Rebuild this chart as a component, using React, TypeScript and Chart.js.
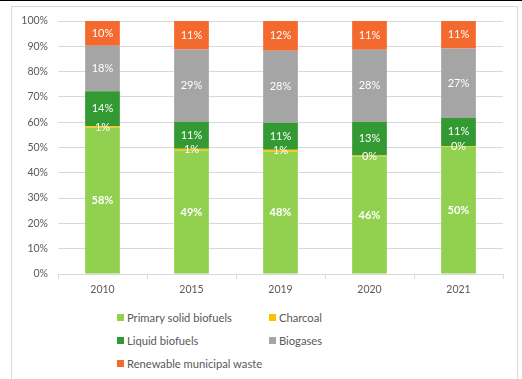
import React, { useEffect, useRef } from "react";
import { Chart, registerables } from "chart.js";

Chart.register(...registerables);

const categories = ["2010", "2015", "2019", "2020", "2021"];
const primarySolid = [57.8, 48.8, 48.3, 46.4, 50.3];
const charcoal = [0.6, 0.7, 0.8, 0.4, 0.3];
const liquid = [13.8, 10.6, 10.7, 13.4, 11.1];
const biogases = [18.0, 28.6, 28.4, 28.4, 27.4];
const municipal = [9.8, 11.3, 11.8, 11.4, 10.9];
const yTicks = [0, 10, 20, 30, 40, 50, 60, 70, 80, 90, 100];

const seriesNames = [
  "Primary solid biofuels",
  "Charcoal",
  "Liquid biofuels",
  "Biogases",
  "Renewable municipal waste",
];
const seriesColors = ["#92D050", "#FFC000", "#339933", "#A5A5A5", "#F4692E"];
const FONT = "Lato, 'Open Sans', sans-serif";

const labelPlugin = {
  id: "barLabels",
  afterDatasetsDraw(chart: any) {
    const ctx = chart.ctx;
    ctx.save();
    ctx.textAlign = "center";
    ctx.textBaseline = "middle";
    ctx.fillStyle = "#FFFFFF";
    chart.data.datasets.forEach((ds: any, i: number) => {
      const meta = chart.getDatasetMeta(i);
      ctx.font = (i === 0 ? "bold " : "") + "11px " + FONT;
      meta.data.forEach((bar: any, j: number) => {
        const v = ds.data[j];
        const p = bar.getProps(["x", "y", "base"], true);
        const cy = (p.y + p.base) / 2;
        ctx.fillText(Math.round(v) + "%", p.x, cy);
      });
    });
    ctx.restore();
  },
};

export default function App() {
  const ref = useRef<HTMLCanvasElement>(null);
  useEffect(() => {
    if (!ref.current) return;
    const values = [primarySolid, charcoal, liquid, biogases, municipal];
    const chart = new Chart(ref.current, {
      type: "bar",
      data: {
        labels: categories,
        datasets: values.map((d, i) => ({
          label: seriesNames[i],
          data: d,
          backgroundColor: seriesColors[i],
          borderWidth: 0,
          barPercentage: 0.39,
          categoryPercentage: 1,
        })),
      },
      options: {
        animation: false,
        responsive: false,
        maintainAspectRatio: false,
        layout: { padding: { left: 0, right: 19, top: 21, bottom: 0 } },
        plugins: { legend: { display: false }, tooltip: { enabled: false } },
        scales: {
          x: {
            stacked: true,
            grid: {
              offset: true,
              drawOnChartArea: false,
              tickLength: 5,
              color: "#D9D9D9",
            },
            border: { color: "#D9D9D9" },
            ticks: {
              color: "#595959",
              font: { family: FONT, size: 10.5 },
              padding: 4,
            },
            afterFit: (s: any) => {
              s.height = 26;
            },
          },
          y: {
            stacked: true,
            min: 0,
            max: 100,
            afterBuildTicks: (s: any) => {
              s.ticks = yTicks.map((v) => ({ value: v }));
            },
            grid: { color: "#D9D9D9", drawTicks: false },
            border: { display: false },
            ticks: {
              color: "#595959",
              font: { family: FONT, size: 10.5 },
              padding: 10,
              callback: (v: any) => v + "%",
            },
            afterFit: (s: any) => {
              s.width = 58;
            },
          },
        },
      },
      plugins: [labelPlugin],
    });
    return () => chart.destroy();
  }, []);

  const legendPos = [
    { left: 117, top: 317 },
    { left: 269, top: 317 },
    { left: 117, top: 340 },
    { left: 269, top: 340 },
    { left: 117, top: 363 },
  ];

  return (
    <div
      style={{
        position: "fixed",
        left: 0,
        top: 0,
        width: 522,
        height: 379,
        background: "#FFFFFF",
        overflow: "hidden",
        fontFamily: FONT,
      }}
    >
      <div style={{ position: "absolute", left: 0, top: 0, width: 522, height: 1, background: "#000" }} />
      <div
        style={{
          position: "absolute",
          left: 11,
          top: 6,
          width: 505,
          height: 400,
          border: "1px solid #D9D9D9",
        }}
      />
      <canvas
        ref={ref}
        width={522}
        height={300}
        style={{ position: "absolute", left: 0, top: 0, width: 522, height: 300 }}
      />
      {seriesNames.map((n, i) => (
        <div
          key={n}
          style={{
            position: "absolute",
            left: legendPos[i].left,
            top: legendPos[i].top - 8,
            height: 16,
            display: "flex",
            alignItems: "center",
            fontSize: 11.2,
            color: "#595959",
            whiteSpace: "nowrap",
          }}
        >
          <span
            style={{
              display: "inline-block",
              width: 7,
              height: 7,
              background: seriesColors[i],
              marginRight: 3,
            }}
          />
          {n}
        </div>
      ))}
    </div>
  );
}
